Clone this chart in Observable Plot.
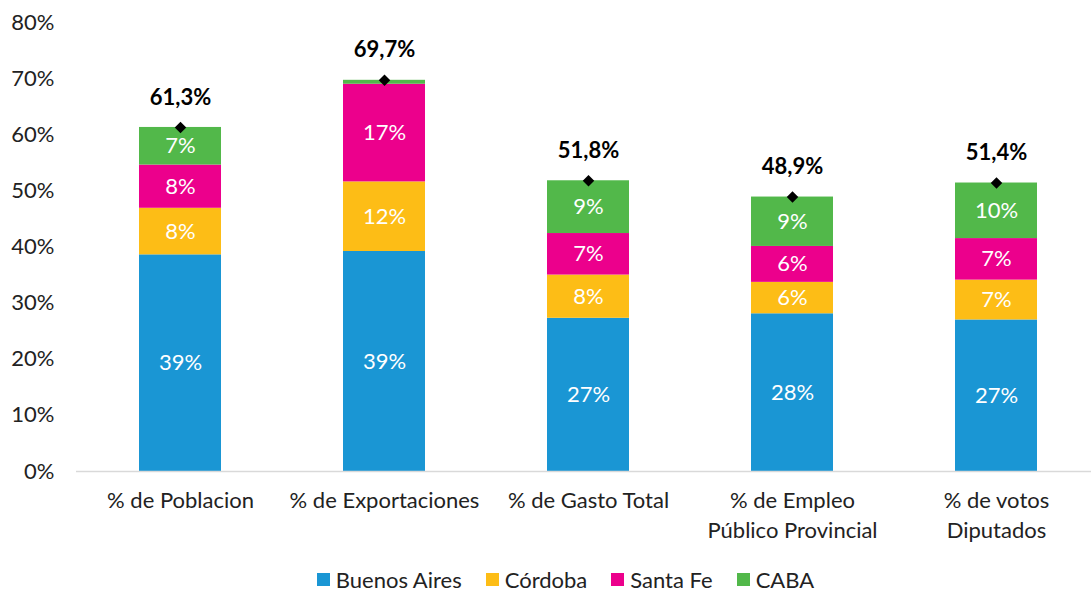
<!DOCTYPE html>
<html>
<head>
<meta charset="utf-8">
<script src="https://cdn.jsdelivr.net/npm/d3@7"></script>
<script src="https://cdn.jsdelivr.net/npm/@observablehq/plot@0.6"></script>
<style>
  body { margin: 0; background: #fff; font-family: Lato, "Open Sans", sans-serif; }
  #legend { display: flex; justify-content: center; gap: 24px; margin-left: 40px; margin-top: 16px; font-size: 22px; color: #222; }
  #legend span.item { display: flex; align-items: center; }
  #legend span.sw { width: 13px; height: 13px; display: inline-block; margin-right: 6px; }
</style>
</head>
<body>
<div id="chart"></div>
<div id="legend"></div>
<script>
const categories = ["% de Poblacion", "% de Exportaciones", "% de Gasto Total", "% de Empleo\nPúblico Provincial", "% de votos\nDiputados"];
const series = ["Buenos Aires", "Córdoba", "Santa Fe", "CABA"];
const colors = ["#1a96d4", "#fdbd16", "#ec008c", "#52b84a"];
const buenosAires = [38.6, 39.2, 27.3, 28.1, 27.0];
const cordoba     = [8.3, 12.4, 7.7, 5.6, 7.1];
const santaFe     = [7.7, 17.4, 7.4, 6.4, 7.4];
const caba        = [6.7, 0.7, 9.4, 8.8, 9.9];
const totals      = [61.3, 69.7, 51.8, 48.9, 51.4];
const yTicks = [0, 10, 20, 30, 40, 50, 60, 70, 80];

const seriesValues = [buenosAires, cordoba, santaFe, caba];
const data = [];
categories.forEach((c, i) => {
  series.forEach((s, j) => data.push({cat: c, serie: s, v: seriesValues[j][i]}));
});
const totalData = categories.map((c, i) => ({cat: c, v: totals[i]}));

const chart = Plot.plot({
  width: 1091,
  height: 550,
  marginLeft: 76,
  marginRight: -9,
  marginTop: 22,
  marginBottom: 79,
  style: {fontFamily: "Lato, 'Open Sans', sans-serif", fontSize: "22px", color: "#222"},
  x: {domain: categories, paddingInner: 0.6, paddingOuter: 0.3, label: null},
  y: {domain: [0, 80], label: null},
  color: {domain: series, range: colors},
  marks: [
    Plot.axisY({ticks: yTicks, tickSize: 0, tickPadding: 22, tickFormat: d => d + "%", fontSize: 22, label: null}),
    Plot.axisX({tickSize: 0, tickPadding: 15, fontSize: 22, lineHeight: 1.36, label: null}),
    Plot.barY(data, {x: "cat", y: "v", fill: "serie"}),
    Plot.text(data, Plot.stackY({x: "cat", y: "v", text: d => d.v < 2 ? null : Math.round(d.v) + "%", fill: "white", fontSize: 22})),
    Plot.ruleY([0], {stroke: "#d9d9d9", strokeWidth: 1.5}),
    Plot.dot(totalData, {x: "cat", y: "v", symbol: "diamond2", r: 5.2, fill: "black"}),
    Plot.text(totalData, {x: "cat", y: "v", text: d => d.v.toFixed(1).replace(".", ",") + "%", dy: -30, fontWeight: "bold", fontSize: 22, fill: "black"})
  ]
});
document.getElementById("chart").appendChild(chart);

const legend = document.getElementById("legend");
series.forEach((s, i) => {
  const item = document.createElement("span");
  item.className = "item";
  const sw = document.createElement("span");
  sw.className = "sw";
  sw.style.background = colors[i];
  item.appendChild(sw);
  item.appendChild(document.createTextNode(s));
  legend.appendChild(item);
});
</script>
</body>
</html>
